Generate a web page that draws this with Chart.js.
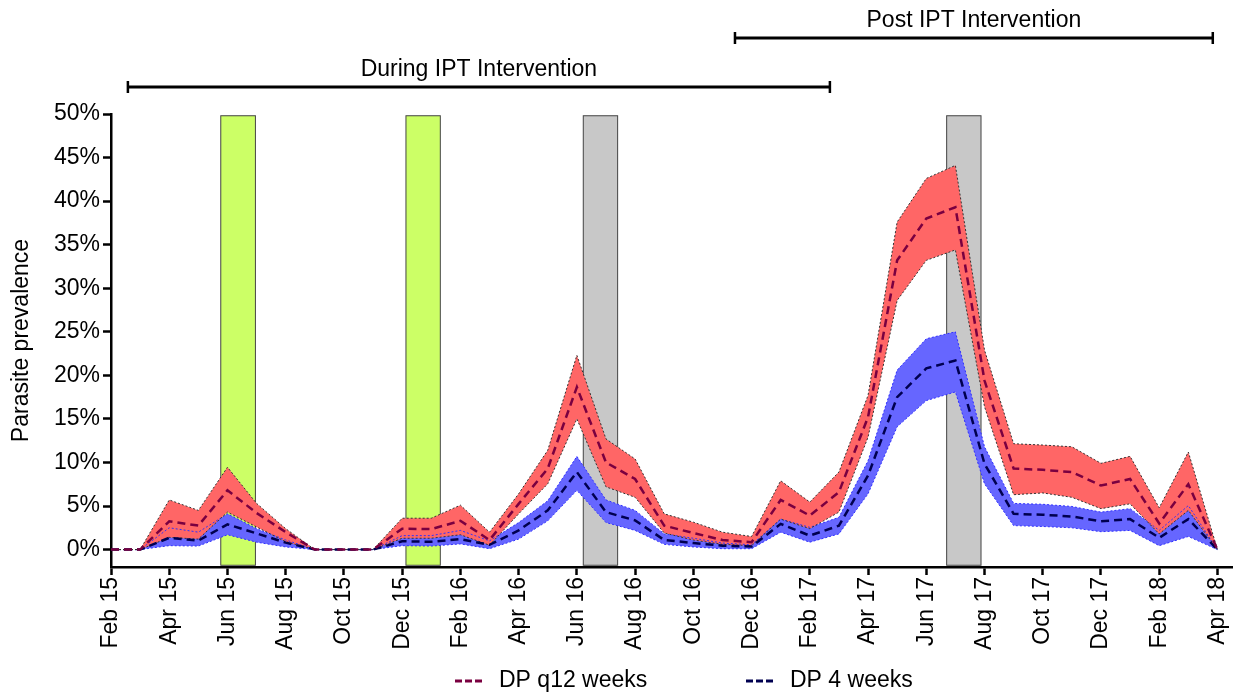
<!DOCTYPE html>
<html>
<head>
<meta charset="utf-8">
<script src="https://cdn.jsdelivr.net/npm/chart.js@4.4.0/dist/chart.umd.min.js"></script>
<style>
  html, body { margin: 0; padding: 0; background: #fff; }
  #wrap { width: 1242px; height: 700px; }
</style>
</head>
<body>
<div id="wrap"><canvas id="prevChart" width="1242" height="700"></canvas></div>
<script>
// months since Feb 2015
const months = [0,1,2,3,4,5,6,7,8,9,10,11,12,13,14,15,16,17,18,19,20,21,22,23,24,25,26,27,28,29,30,31,32,33,34,35,36,37,38];

const tickValues = [0,2,4,6,8,10,12,14,16,18,20,22,24,26,28,30,32,34,36,38];
const tickLabels = ["Feb 15","Apr 15","Jun 15","Aug 15","Oct 15","Dec 15","Feb 16","Apr 16","Jun 16","Aug 16",
                    "Oct 16","Dec 16","Feb 17","Apr 17","Jun 17","Aug 17","Oct 17","Dec 17","Feb 18","Apr 18"];
const yTicks = [0,5,10,15,20,25,30,35,40,45,50];

// DP q12 weeks (%)
const q12Mean  = [0,0,3.25,2.75,6.8,4.2,2.0,0,0,0,2.4,2.35,3.3,1.1,5.25,9.3,18.65,10.0,8.1,2.75,1.9,1.1,0.85,5.7,3.9,6.6,15.2,33.2,38.0,39.3,19.4,9.3,9.15,8.9,7.35,8.1,3.0,7.5,0];
const q12Upper = [0,0,5.7,4.5,9.45,5.3,2.4,0,0,0,3.6,3.6,5.1,2.0,6.4,11.4,22.3,12.7,10.4,4.1,3.15,2.0,1.5,7.9,5.45,8.9,17.7,37.6,42.6,44.1,22.9,12.15,12.0,11.8,9.9,10.7,4.8,11.2,0];
const q12Lower = [0,0,1.4,1.2,4.3,2.6,0.9,0,0,0,1.3,1.3,1.7,0.5,4.1,7.55,15.0,7.2,6.0,1.9,1.1,0.6,0.45,3.5,2.4,4.3,12.9,28.6,33.2,34.4,16.4,6.3,6.5,6.0,4.7,5.25,1.8,4.5,0];

// DP 4 weeks (%)
const w4Mean  = [0,0,1.35,1.03,2.9,1.85,0.8,0,0,0,0.95,0.9,1.2,0.55,2.2,4.5,8.9,4.3,3.35,1.1,0.75,0.45,0.35,2.95,1.6,2.75,8.5,17.5,20.8,21.7,9.85,4.1,4.0,3.8,3.25,3.5,1.35,3.5,0];
const w4Upper = [0,0,2.5,2.0,4.1,2.4,1.1,0,0,0,1.6,1.6,2.2,1.0,3.1,5.6,10.7,5.7,4.5,1.8,1.3,0.75,0.55,3.5,2.55,3.7,10.2,20.6,24.2,25.0,11.8,5.3,5.2,4.95,4.3,4.7,2.2,5.05,0];
const w4Lower = [0,0,0.45,0.4,1.7,0.85,0.3,0,0,0,0.45,0.4,0.65,0.1,1.2,3.3,6.8,3.1,2.2,0.6,0.3,0.1,0.1,2.0,0.85,1.8,6.4,14.1,17.1,18.1,7.55,2.75,2.65,2.5,2.05,2.2,0.45,1.5,0];

// shaded periods (months since Feb 2015)
const greenStart = [3.77, 10.13];
const greenEnd   = [4.96, 11.31];
const greyStart  = [16.22, 28.7];
const greyEnd    = [17.4, 29.88];
const boxBottom = -1.8;
const boxTop = 49.8;

// intervention brackets
const periodLabels = ["During IPT Intervention", "Post IPT Intervention"];
const periodStart = [0.58, 21.43];
const periodEnd   = [24.69, 37.84];

const FONT = "'Liberation Sans', Arial, sans-serif";

function pts(arr) {
  return months.map((m, i) => ({ x: m, y: arr[i] }));
}

const boxesPlugin = {
  id: "boxes",
  beforeDraw(chart) {
    const ctx = chart.ctx;
    const xs = chart.scales.x, ys = chart.scales.y;
    const draw = (s, e, fill) => {
      const x1 = xs.getPixelForValue(s), x2 = xs.getPixelForValue(e);
      const y1 = ys.getPixelForValue(boxTop), y2 = ys.getPixelForValue(boxBottom);
      ctx.save();
      ctx.fillStyle = fill;
      ctx.fillRect(x1, y1, x2 - x1, y2 - y1);
      ctx.strokeStyle = "#444";
      ctx.lineWidth = 1;
      ctx.strokeRect(x1, y1, x2 - x1, y2 - y1);
      ctx.restore();
    };
    greenStart.forEach((s, i) => draw(s, greenEnd[i], "#ccff66"));
    greyStart.forEach((s, i) => draw(s, greyEnd[i], "#c8c8c8"));
  }
};

const bracketPlugin = {
  id: "brackets",
  afterDraw(chart) {
    const ctx = chart.ctx;
    const xs = chart.scales.x;
    const rowY = [87, 38];
    ctx.save();
    ctx.strokeStyle = "#000";
    ctx.fillStyle = "#000";
    ctx.font = "23px " + FONT;
    ctx.textAlign = "center";
    ctx.textBaseline = "middle";
    periodLabels.forEach((lab, i) => {
      const x1 = xs.getPixelForValue(periodStart[i]);
      const x2 = xs.getPixelForValue(periodEnd[i]);
      const y = rowY[i];
      ctx.lineWidth = 3;
      ctx.beginPath();
      ctx.moveTo(x1, y); ctx.lineTo(x2, y);
      ctx.stroke();
      ctx.lineWidth = 2.5;
      ctx.beginPath();
      ctx.moveTo(x1, y - 6); ctx.lineTo(x1, y + 6);
      ctx.moveTo(x2, y - 6); ctx.lineTo(x2, y + 6);
      ctx.stroke();
      ctx.fillText(lab, (x1 + x2) / 2, y - 17);
    });
    ctx.restore();
  }
};

const legendPlugin = {
  id: "dashLegend",
  afterDraw(chart) {
    const ctx = chart.ctx;
    const items = [
      { ds: chart.data.datasets[0], x: 455 },
      { ds: chart.data.datasets[1], x: 746 }
    ];
    const y = 681;
    ctx.save();
    ctx.font = "23px " + FONT;
    ctx.textBaseline = "middle";
    ctx.textAlign = "left";
    items.forEach(it => {
      ctx.strokeStyle = it.ds.borderColor;
      ctx.lineWidth = 3;
      ctx.setLineDash([7, 3]);
      ctx.beginPath();
      ctx.moveTo(it.x, y); ctx.lineTo(it.x + 30, y);
      ctx.stroke();
      ctx.setLineDash([]);
      ctx.fillStyle = "#000";
      ctx.fillText(it.ds.label, it.x + 44, y);
    });
    ctx.restore();
  }
};

new Chart(document.getElementById("prevChart"), {
  type: "line",
  data: {
    datasets: [
      { label: "DP q12 weeks", data: pts(q12Mean), borderColor: "#7a0040", borderWidth: 2.5, borderDash: [8, 5], fill: false },
      { label: "DP 4 weeks", data: pts(w4Mean), borderColor: "#000050", borderWidth: 2.5, borderDash: [8, 5], fill: false },
      { label: "q12 upper", data: pts(q12Upper), borderColor: "#333", borderWidth: 1, borderDash: [2, 2], backgroundColor: "#ff6666", fill: "+1" },
      { label: "q12 lower", data: pts(q12Lower), borderColor: "#333", borderWidth: 1, borderDash: [2, 2], fill: false },
      { label: "4w upper", data: pts(w4Upper), borderColor: "#3030ff", borderWidth: 1, borderDash: [2, 2], backgroundColor: "#6666ff", fill: "+1" },
      { label: "4w lower", data: pts(w4Lower), borderColor: "#3030ff", borderWidth: 1, borderDash: [2, 2], fill: false }
    ]
  },
  options: {
    responsive: false,
    devicePixelRatio: 1,
    animation: false,
    elements: { point: { radius: 0 }, line: { tension: 0 } },
    layout: { padding: { top: 114, right: 10, left: 0, bottom: 0 } },
    plugins: {
      legend: { display: false },
      tooltip: { enabled: false },
      filler: { drawTime: "beforeDatasetsDraw" }
    },
    scales: {
      x: {
        type: "linear",
        min: 0,
        max: 38.5,
        afterBuildTicks: s => { s.ticks = tickValues.map(v => ({ value: v })); },
        afterFit: s => { s.height = 133; s.paddingRight = 0; s.paddingLeft = 0; },
        ticks: {
          autoSkip: false,
          maxRotation: 90,
          minRotation: 90,
          padding: 2,
          color: "#000",
          font: { family: FONT, size: 23 },
          callback: v => tickLabels[tickValues.indexOf(v)]
        },
        grid: { drawOnChartArea: false, drawTicks: true, tickLength: 8, tickWidth: 2.5, tickColor: "#000" },
        border: { display: true, color: "#000", width: 2.5 }
      },
      y: {
        min: -2,
        max: 50,
        afterBuildTicks: s => { s.ticks = yTicks.map(v => ({ value: v })); },
        afterFit: s => { s.width = 111; },
        ticks: {
          padding: 3,
          color: "#000",
          font: { family: FONT, size: 23 },
          callback: v => v + "%"
        },
        title: {
          display: true,
          text: "Parasite prevalence",
          color: "#000",
          font: { family: FONT, size: 23 },
          padding: { top: 8, bottom: 0 }
        },
        grid: { drawOnChartArea: false, drawTicks: true, tickLength: 8, tickWidth: 2.5, tickColor: "#000" },
        border: { display: true, color: "#000", width: 2.5 }
      }
    }
  },
  plugins: [boxesPlugin, bracketPlugin, legendPlugin]
});
</script>
</body>
</html>
